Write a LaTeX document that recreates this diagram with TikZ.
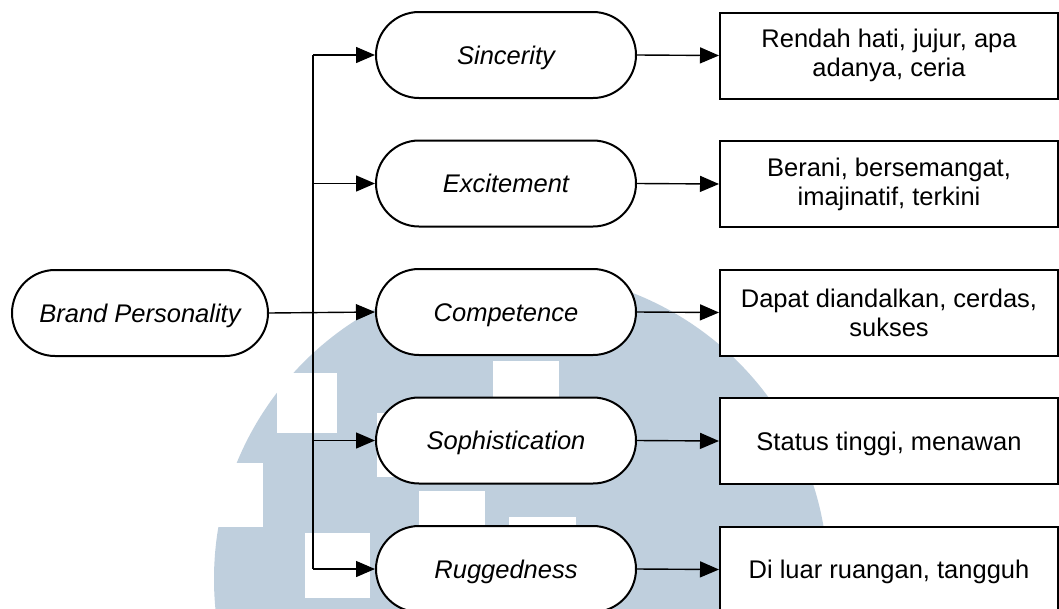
\documentclass[tikz,border=0pt]{standalone}
\usepackage{fontspec}
\setmainfont{Liberation Sans}
\usetikzlibrary{shapes.misc,arrows.meta}
\definecolor{wmblue}{RGB}{191,207,221}
\begin{document}
\begin{tikzpicture}[x=1pt,y=-1pt,
  pill/.style={rounded rectangle, draw=black, line width=2pt, fill=white,
    minimum width=260pt, minimum height=86pt, inner sep=0pt,
    text height=18pt, text depth=0pt,
    font=\fontsize{25.5}{29}\selectfont\itshape},
  attrbox/.style={rectangle, draw=black, line width=2pt, fill=white,
    minimum width=338pt, minimum height=86pt, inner sep=0pt, align=center,
    font=\fontsize{25.5}{29}\selectfont},
  oneline/.style={text height=18pt, text depth=0pt},
  conn/.style={line width=1.4pt, draw=black},
  arr/.style={conn, -{Triangle[length=19pt,width=16pt]}},
  wmhole/.style={fill=white, draw=none}
]
\useasboundingbox (0,0) rectangle (1059,608);
\clip (0,0) rectangle (1059,608);
\fill[white] (0,0) rectangle (1059,608);

% watermark
\fill[wmblue] (521,579) circle[radius=307pt];
\fill[wmhole] (277,373) rectangle (337,433);
\fill[wmhole] (150,463) rectangle (263,527);
\fill[wmhole] (305,533) rectangle (370,598);
\fill[wmhole] (377,413) rectangle (440,477);
\fill[wmhole] (493,361) rectangle (559,420);
\fill[wmhole] (419,491) rectangle (485,560);
\fill[wmhole] (509,517) rectangle (576,560);

% nodes
\node[pill, minimum width=256pt] (bp) at (140,313) {Brand Personality};
\node[pill] (s1) at (506,55) {Sincerity};
\node[pill] (s2) at (506,183.5) {Excitement};
\node[pill] (s3) at (506,312) {Competence};
\node[pill] (s4) at (506,440.5) {Sophistication};
\node[pill] (s5) at (506,569) {Ruggedness};

\node[attrbox] (r1) at (889,55.5) {Rendah hati, jujur, apa\\adanya, ceria};
\node[attrbox] (r2) at (889,184) {Berani, bersemangat,\\imajinatif, terkini};
\node[attrbox] (r3) at (889,312.5) {Dapat diandalkan, cerdas,\\sukses};
\node[attrbox, oneline] (r4) at (889,441) {Status tinggi, menawan};
\node[attrbox, oneline] (r5) at (889,569.5) {Di luar ruangan, tangguh};

% connectors
\coordinate (jtop) at (313,55);
\coordinate (j2) at (313,183.5);
\coordinate (j4) at (313,440.5);
\coordinate (jbot) at (313,569);
\draw[conn] (jtop) -- (jbot);
\draw[arr] (bp.east) -- (s3.west);
\draw[arr] (jtop) -- (s1.west);
\draw[arr] (j2) -- (s2.west);
\draw[arr] (j4) -- (s4.west);
\draw[arr] (jbot) -- (s5.west);

\draw[arr] (s1.east) -- (r1.west);
\draw[arr] (s2.east) -- (r2.west);
\draw[arr] (s3.east) -- (r3.west);
\draw[arr] (s4.east) -- (r4.west);
\draw[arr] (s5.east) -- (r5.west);
\end{tikzpicture}
\end{document}
